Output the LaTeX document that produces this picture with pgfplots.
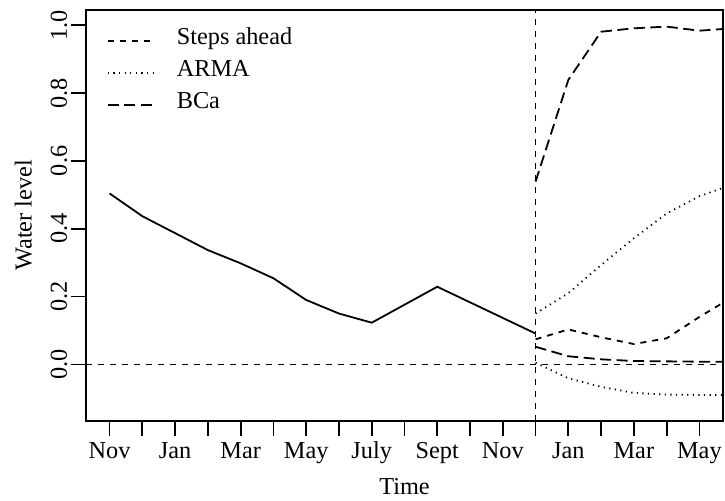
\documentclass[border=0pt]{standalone}
\usepackage{fontspec}
\setmainfont{Liberation Serif}
\usepackage{pgfplots}
\pgfplotsset{compat=1.18}
\tikzset{
  sdash/.style={line width=0.9bp, dash pattern=on 3bp off 3bp},
  ldash/.style={line width=0.9bp, dash pattern=on 5.5bp off 2.75bp},
  rdot/.style={line width=0.9bp, dash pattern=on 0.6bp off 2.2bp},
}
\begin{document}
\fontsize{12.2}{14}\selectfont
\begin{tikzpicture}
\begin{axis}[
  scale only axis, width=318.5bp, height=205.35bp,
  xmin=-0.72, xmax=18.72, ymin=-0.166, ymax=1.045,
  axis line style={line width=0.9bp},
  tick style={line width=0.9bp, black},
  tick align=outside, major tick length=7.5bp,
  tick pos=left,
  xtick={0,...,18},
  xticklabels={Nov,,Jan,,Mar,,May,,July,,Sept,,Nov,,Jan,,Mar,,May},
  ytick={0,0.2,0.4,0.6,0.8,1},
  yticklabel style={xshift=-2bp, rotate=90, anchor=base,
    /pgf/number format/.cd, fixed, fixed zerofill, precision=1, assume math mode=true},
  xticklabel style={yshift=-11.3bp, anchor=base},
  xlabel={Time}, ylabel={Water level},
  xlabel style={at={([yshift=-36.8bp]axis description cs:0.5,0)}, anchor=base},
  ylabel style={at={([xshift=-27.15bp]axis description cs:0,0.5)}, anchor=base},
  legend style={at={(rel axis cs:0,1)}, anchor=north west, xshift=10.5bp, yshift=-9bp,
    draw=none, fill=none, inner sep=0pt, outer sep=0pt, row sep=7.5bp,
    nodes={inner sep=0pt, text height=8.5bp, text depth=0bp, anchor=base west},
    /tikz/every odd column/.append style={column sep=11.5bp}},
  legend cell align=left,
  legend image code/.code={\draw[#1] (0bp,2bp) -- (22.5bp,2bp);},
]
% steps ahead forecast
\addplot[sdash] coordinates {(13,0.074) (14,0.103) (15,0.080) (16,0.060) (17,0.077) (18,0.140) (19,0.198)};
% ARMA bounds
\addplot[rdot] coordinates {(13,0.150) (14,0.210) (15,0.293) (16,0.372) (17,0.445) (18,0.496) (19,0.530)};
% BCa bounds
\addplot[ldash] coordinates {(13,0.539) (14,0.839) (15,0.981) (16,0.991) (17,0.996) (18,0.984) (19,0.991)};
\addplot[rdot, forget plot] coordinates {(13,0.005) (14,-0.041) (15,-0.066) (16,-0.084) (17,-0.089) (18,-0.090) (19,-0.090)};
\addplot[ldash, forget plot] coordinates {(13,0.052) (14,0.024) (15,0.015) (16,0.010) (17,0.009) (18,0.008) (19,0.008)};
% observed
\addplot[line width=0.9bp, forget plot] coordinates {
(0,0.504) (1,0.437) (2,0.387) (3,0.337) (4,0.298) (5,0.254) (6,0.190)
(7,0.150) (8,0.123) (9,0.176) (10,0.229) (11,0.183) (12,0.137) (13,0.091)};
% reference lines
\addplot[sdash, forget plot] coordinates {(-0.72,0) (18.72,0)};
\addplot[sdash, forget plot] coordinates {(13,-0.166) (13,1.045)};
\legend{Steps ahead, ARMA, BCa}
\coordinate (ll) at (rel axis cs:0,0);
\coordinate (ur) at (rel axis cs:1,1);
\end{axis}
\pgfresetboundingbox
\path[use as bounding box] ([shift={(-43bp,-40.15bp)}]ll) rectangle ([shift={(1bp,5bp)}]ur);
\end{tikzpicture}
\end{document}
